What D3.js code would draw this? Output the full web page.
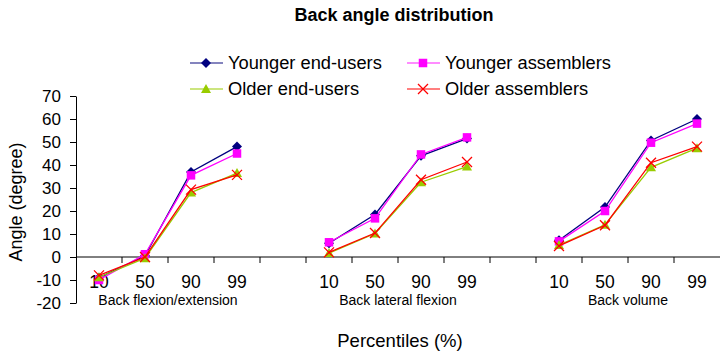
<!DOCTYPE html>
<html>
<head>
<meta charset="utf-8">
<script src="https://cdn.jsdelivr.net/npm/d3@7/dist/d3.min.js"></script>
<style>
  body { margin: 0; background: #fff; }
  svg { display: block; font-family: "Liberation Sans", Arial, sans-serif; }
</style>
</head>
<body>
<svg id="chart" width="720" height="354"></svg>
<script>
// categories: 3 groups of percentiles, one empty slot between groups
const percentiles = ["10", "50", "90", "99"];
const groups = ["Back flexion/extension", "Back lateral flexion", "Back volume"];
const yTicks = [-20, -10, 0, 10, 20, 30, 40, 50, 60, 70];

// values per group, in percentile order
const youngerEndUsers = [[-9, 0.5, 37, 48], [6, 18.5, 44, 51.5], [7.3, 21.7, 50.7, 60]];
const youngerAssemblers = [[-10, 1.2, 35.5, 45], [6.4, 16.8, 44.6, 52], [6.8, 20, 49.7, 58]];
const olderEndUsers = [[-8.8, -0.5, 28, 36.5], [1.7, 10.2, 32.5, 39.3], [5.2, 14, 39, 47.3]];
const olderAssemblers = [[-8, 0, 29.3, 35.7], [2, 10.4, 33.6, 41.3], [4.8, 13.8, 41, 48]];

const series = [
  { name: "Younger end-users", values: youngerEndUsers, color: "#000080", legendColor: "#5b5ba8", marker: "diamond" },
  { name: "Younger assemblers", values: youngerAssemblers, color: "#ff00ff", legendColor: "#ff66ff", marker: "square" },
  { name: "Older end-users", values: olderEndUsers, color: "#99cc00", legendColor: "#bbdd55", marker: "triangle" },
  { name: "Older assemblers", values: olderAssemblers, color: "#ff0000", legendColor: "#ff5555", marker: "cross" }
];

const svg = d3.select("#chart");

const margin = { left: 76, right: 0 };
const width = 720;

// slot keys: g0-10 ... gap0 ... g2-99
const slots = [];
groups.forEach((g, gi) => {
  percentiles.forEach(p => slots.push("g" + gi + "-" + p));
  if (gi < groups.length - 1) slots.push("gap" + gi);
});

const x = d3.scaleBand().domain(slots).range([margin.left, width - margin.right]);
const y = d3.scaleLinear().domain([-20, 70]).range([303, 96]);

// title
svg.append("text")
  .attr("x", 394).attr("y", 21)
  .attr("text-anchor", "middle")
  .attr("font-size", 18).attr("font-weight", "bold")
  .text("Back angle distribution");

// y axis (plain hyphen for negatives, like the original)
const yAxis = svg.append("g")
  .attr("transform", `translate(${margin.left},0)`)
  .call(d3.axisLeft(y).tickValues(yTicks).tickFormat(d => String(d))
    .tickSize(6).tickPadding(9).tickSizeOuter(0));
yAxis.select(".domain").attr("stroke", "#000");
yAxis.selectAll(".tick line").attr("stroke", "#000");
yAxis.selectAll("text").attr("font-size", 17).attr("fill", "#000")
  .attr("font-family", "Liberation Sans, Arial, sans-serif");

// x axis along zero line, ticks at slot boundaries
const xAxisG = svg.append("g").attr("transform", `translate(0,${y(0)})`);
xAxisG.append("line")
  .attr("x1", margin.left).attr("x2", width)
  .attr("stroke", "#000");
slots.forEach((s, i) => {
  if (i === 0) return;
  xAxisG.append("line")
    .attr("x1", x(s)).attr("x2", x(s))
    .attr("y1", 0).attr("y2", 6)
    .attr("stroke", "#000");
});

// percentile tick labels
slots.filter(s => s.startsWith("g")).forEach(s => {
  svg.append("text")
    .attr("x", x(s) + x.bandwidth() / 2)
    .attr("y", 288)
    .attr("text-anchor", "middle")
    .attr("font-size", 17.5)
    .text(s.split("-")[1]);
});

// group labels
groups.forEach((g, gi) => {
  const x0 = x("g" + gi + "-10"), x1 = x("g" + gi + "-99") + x.bandwidth();
  svg.append("text")
    .attr("x", (x0 + x1) / 2)
    .attr("y", 305)
    .attr("text-anchor", "middle")
    .attr("font-size", 14)
    .text(g);
});

// axis titles
svg.append("text")
  .attr("transform", "translate(22,202) rotate(-90)")
  .attr("text-anchor", "middle")
  .attr("font-size", 18)
  .text("Angle (degree)");

svg.append("text")
  .attr("x", 400).attr("y", 347)
  .attr("text-anchor", "middle")
  .attr("font-size", 18.5)
  .text("Percentiles (%)");

// markers
function drawMarker(g, type, color, size) {
  const s = size;
  if (type === "diamond") {
    g.append("path").attr("d", `M0,${-s}L${s},0L0,${s}L${-s},0Z`).attr("fill", color);
  } else if (type === "square") {
    g.append("rect").attr("x", -s * 0.85).attr("y", -s * 0.85)
      .attr("width", s * 1.7).attr("height", s * 1.7).attr("fill", color);
  } else if (type === "triangle") {
    g.append("path").attr("d", `M0,${-s}L${s},${s * 0.8}L${-s},${s * 0.8}Z`).attr("fill", color);
  } else if (type === "cross") {
    g.append("path").attr("d", `M${-s},${-s}L${s},${s}M${-s},${s}L${s},${-s}`)
      .attr("stroke", color).attr("stroke-width", 1.3).attr("fill", "none");
  }
}

const line = d3.line().x(d => d[0]).y(d => d[1]);

series.forEach(sr => {
  sr.values.forEach((vals, gi) => {
    const pts = vals.map((v, pi) => [x("g" + gi + "-" + percentiles[pi]) + x.bandwidth() / 2, y(v)]);
    svg.append("path")
      .attr("d", line(pts))
      .attr("fill", "none")
      .attr("stroke", sr.color)
      .attr("stroke-width", 1.3);
    pts.forEach(p => {
      const g = svg.append("g").attr("transform", `translate(${p[0]},${p[1]})`);
      drawMarker(g, sr.marker, sr.color, 5);
    });
  });
});

// legend
const legendPos = [[190, 63], [407, 63], [190, 89], [407, 89]];
series.forEach((sr, i) => {
  const [lx, ly] = legendPos[i];
  const g = svg.append("g").attr("transform", `translate(${lx},${ly})`);
  g.append("line").attr("x1", 0).attr("x2", 33).attr("stroke", sr.legendColor).attr("stroke-width", 1.5);
  const m = g.append("g").attr("transform", "translate(16,0)");
  drawMarker(m, sr.marker, sr.color, 5);
  g.append("text")
    .attr("x", 38).attr("y", 6)
    .attr("font-size", 18.3)
    .text(sr.name);
});
</script>
</body>
</html>
